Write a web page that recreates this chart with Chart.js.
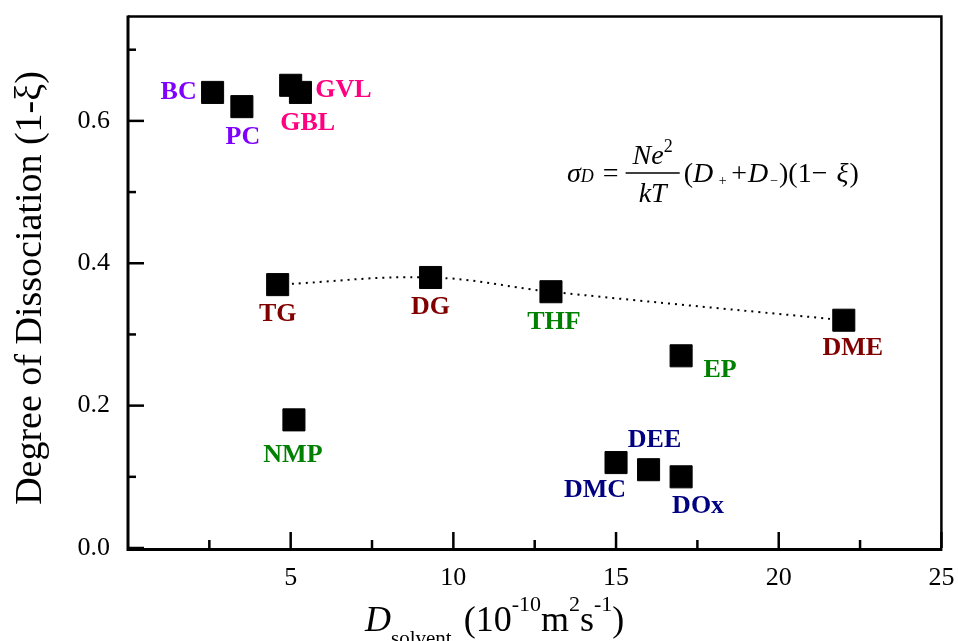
<!DOCTYPE html>
<html>
<head>
<meta charset="utf-8">
<script src="https://cdn.jsdelivr.net/npm/chart.js@4/dist/chart.umd.min.js"></script>
<style>
  html, body { margin: 0; padding: 0; background: #fff; }
  #wrap { width: 958px; height: 641px; }
</style>
</head>
<body>
<div id="wrap"><canvas id="c" width="958" height="641"></canvas></div>
<script>
// Solvent diffusion coefficient vs. degree of dissociation
const solvents     = ['BC', 'PC', 'GBL', 'GVL', 'TG', 'DG', 'THF', 'DME', 'EP', 'NMP', 'DMC', 'DEE', 'DOx'];
const diffusion    = [2.6, 3.5, 5.0, 5.3, 4.6, 9.3, 13.0, 22.0, 17.0, 5.1, 15.0, 16.0, 17.0];
const dissociation = [0.64, 0.62, 0.65, 0.64, 0.37, 0.38, 0.36, 0.32, 0.27, 0.18, 0.12, 0.11, 0.10];
// glyme / ether series joined by the dotted trend line
const trendSolvents = ['TG', 'DG', 'THF', 'DME'];
const xTicks = [5, 10, 15, 20, 25];
const yTicks = [0.0, 0.2, 0.4, 0.6];
const xMinorTicks = [2.5, 7.5, 12.5, 17.5, 22.5];
const yMinorTicks = [0.1, 0.3, 0.5, 0.7];

// label colour and offset (px) from its marker
const labelStyle = {
  BC:  { color: '#8000ff', dx: -34, dy: -2 },
  PC:  { color: '#8000ff', dx: 1,   dy: 28 },
  GBL: { color: '#ff0080', dx: 17,  dy: 36 },
  GVL: { color: '#ff0080', dx: 43,  dy: -4 },
  TG:  { color: '#800000', dx: 0,   dy: 27 },
  DG:  { color: '#800000', dx: 0,   dy: 28 },
  THF: { color: '#008000', dx: 3,   dy: 28 },
  DME: { color: '#800000', dx: 9,   dy: 26 },
  EP:  { color: '#008000', dx: 39,  dy: 12 },
  NMP: { color: '#008000', dx: -1,  dy: 33 },
  DMC: { color: '#000080', dx: -21, dy: 25 },
  DEE: { color: '#000080', dx: 6,   dy: -32 },
  DOx: { color: '#000080', dx: 17,  dy: 27 }
};

const points = solvents.map((s, i) => ({ x: diffusion[i], y: dissociation[i] }));
const trend = trendSolvents.map(s => {
  const i = solvents.indexOf(s);
  return { x: diffusion[i], y: dissociation[i] };
});

const SERIF = '"Liberation Serif", "Times New Roman", serif';

// draw a run of text pieces with their own fonts and vertical shifts
function drawRuns(ctx, runs, x, y) {
  for (const r of runs) {
    ctx.font = r.f;
    ctx.fillText(r.t, x, y + (r.dy || 0));
    x += ctx.measureText(r.t).width + (r.gap || 0);
  }
  return x;
}
function runsWidth(ctx, runs) {
  let w = 0;
  for (const r of runs) { ctx.font = r.f; w += ctx.measureText(r.t).width + (r.gap || 0); }
  return w;
}

const framePlugin = {
  id: 'frame',
  afterDraw(chart) {
    const { ctx, chartArea: a, scales: { x, y } } = chart;
    ctx.save();
    ctx.strokeStyle = '#000';
    ctx.lineCap = 'butt';
    // inward tick marks
    ctx.lineWidth = 2.5;
    const tick = (px, py, dx, dy) => { ctx.beginPath(); ctx.moveTo(px, py); ctx.lineTo(px + dx, py + dy); ctx.stroke(); };
    xTicks.forEach(v => tick(x.getPixelForValue(v), a.bottom, 0, -16));
    xMinorTicks.forEach(v => tick(x.getPixelForValue(v), a.bottom, 0, -8));
    yTicks.forEach(v => tick(a.left, y.getPixelForValue(v), 16, 0));
    yMinorTicks.forEach(v => tick(a.left, y.getPixelForValue(v), 8, 0));
    // box
    ctx.lineWidth = 3;
    ctx.beginPath(); ctx.moveTo(a.left, a.top - 1); ctx.lineTo(a.left, a.bottom + 1.5); ctx.lineTo(a.right + 1, a.bottom + 1.5); ctx.stroke();
    ctx.lineWidth = 2.5;
    ctx.beginPath(); ctx.moveTo(a.left, a.top); ctx.lineTo(a.right, a.top); ctx.lineTo(a.right, a.bottom); ctx.stroke();

    // axis titles
    ctx.fillStyle = '#000';
    ctx.textBaseline = 'alphabetic';
    ctx.textAlign = 'left';
    drawRuns(ctx, [
      { t: 'D', f: 'italic 36px ' + SERIF },
      { t: 'solvent', f: '21px ' + SERIF, dy: 14, gap: 12 },
      { t: '(10', f: '36px ' + SERIF },
      { t: '-10', f: '22px ' + SERIF, dy: -20 },
      { t: 'm', f: '36px ' + SERIF },
      { t: '2', f: '22px ' + SERIF, dy: -20 },
      { t: 's', f: '36px ' + SERIF },
      { t: '-1', f: '22px ' + SERIF, dy: -20 },
      { t: ')', f: '36px ' + SERIF }
    ], 365, 631);

    ctx.save();
    ctx.translate(41, 288);
    ctx.rotate(-Math.PI / 2);
    ctx.textAlign = 'center';
    ctx.font = '38px ' + SERIF;
    ctx.fillText('Degree of Dissociation (1-\u03BE)', 0, 0);
    ctx.restore();

    // conductivity relation
    const it = 'italic 28px ' + SERIF, rm = '28px ' + SERIF;
    const base = 182;
    let cx = drawRuns(ctx, [
      { t: '\u03C3', f: it },
      { t: 'D', f: 'italic 18px ' + SERIF, gap: 2 },
      { t: ' = ', f: rm }
    ], 567, base);
    const num = [{ t: 'Ne', f: it }, { t: '2', f: '18px ' + SERIF, dy: -12 }];
    const den = [{ t: 'kT', f: it }];
    const nw = runsWidth(ctx, num), dw = runsWidth(ctx, den);
    const fw = Math.max(nw, dw) + 14;
    drawRuns(ctx, num, cx + (fw - nw) / 2, base - 18);
    drawRuns(ctx, den, cx + (fw - dw) / 2, base + 20);
    ctx.lineWidth = 1.3;
    ctx.beginPath(); ctx.moveTo(cx, base - 9); ctx.lineTo(cx + fw, base - 9); ctx.stroke();
    cx += fw + 4;
    drawRuns(ctx, [
      { t: '(', f: rm },
      { t: 'D', f: it, gap: 2 },
      { t: ' + ', f: '14px ' + SERIF, dy: 3, gap: 1 },
      { t: '+', f: rm, gap: 1 },
      { t: 'D', f: it, gap: 2 },
      { t: '\u2212', f: '14px ' + SERIF, dy: 3, gap: 1 },
      { t: ')(1\u2212 ', f: rm, gap: 2 },
      { t: '\u03BE', f: it, gap: 1 },
      { t: ')', f: rm }
    ], cx, base);

    ctx.restore();
  },
  afterDatasetsDraw(chart) {
    const { ctx } = chart;
    const meta = chart.getDatasetMeta(0);
    ctx.save();
    ctx.font = 'bold 26px ' + SERIF;
    ctx.textAlign = 'center';
    ctx.textBaseline = 'alphabetic';
    solvents.forEach((s, i) => {
      const p = meta.data[i];
      const st = labelStyle[s];
      ctx.fillStyle = st.color;
      ctx.fillText(s, p.x + st.dx, p.y + st.dy + 9);
    });
    ctx.restore();
  }
};

new Chart(document.getElementById('c'), {
  type: 'scatter',
  data: {
    datasets: [
      {
        data: points,
        pointStyle: 'rect',
        pointRadius: 15.6,
        pointBackgroundColor: '#000',
        pointBorderColor: '#000',
        pointBorderWidth: 1,
        showLine: false,
        order: 1
      },
      {
        type: 'line',
        data: trend,
        borderColor: '#000',
        borderWidth: 2,
        borderDash: [2, 5],
        pointRadius: 0,
        tension: 0.4,
        fill: false,
        order: 2
      }
    ]
  },
  options: {
    responsive: false,
    devicePixelRatio: 1,
    animation: false,
    events: [],
    layout: { padding: { top: 13, right: 15, left: 0, bottom: 0 } },
    plugins: { legend: { display: false }, tooltip: { enabled: false } },
    scales: {
      x: {
        type: 'linear',
        min: 0, max: 25,
        grid: { display: false, drawTicks: false },
        border: { display: false },
        afterBuildTicks: s => { s.ticks = xTicks.map(v => ({ value: v })); },
        ticks: {
          padding: 15,
          color: '#000',
          maxRotation: 0,
          font: { family: SERIF, size: 26 },
          callback: v => String(v)
        },
        afterFit: s => { s.height = 93; s.paddingLeft = 0; s.paddingRight = 0; }
      },
      y: {
        type: 'linear',
        min: 0, max: 0.7465,
        grid: { display: false, drawTicks: false },
        border: { display: false },
        afterBuildTicks: s => { s.ticks = yTicks.map(v => ({ value: v })); },
        ticks: {
          padding: 18,
          color: '#000',
          font: { family: SERIF, size: 26 },
          callback: v => Number(v).toFixed(1)
        },
        afterFit: s => { s.width = 128; s.paddingTop = 0; s.paddingBottom = 0; }
      }
    }
  },
  plugins: [framePlugin]
});
</script>
</body>
</html>
